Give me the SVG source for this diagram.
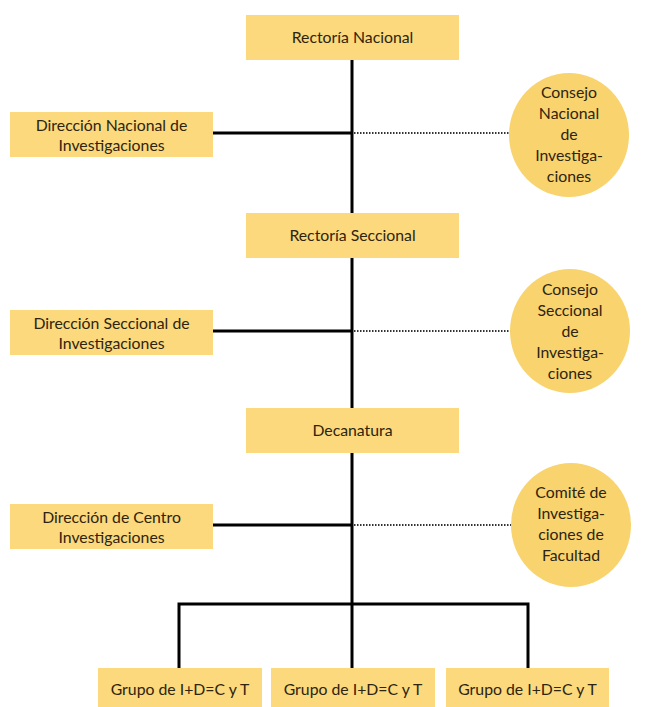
<svg xmlns="http://www.w3.org/2000/svg" width="649" height="707" viewBox="0 0 649 707">
<style>
.box{fill:#FBD97C}
.circ{fill:#F8D36E}
.t{font-family:Lato,"Open Sans","Liberation Sans",sans-serif;font-size:15.8px;fill:#2e2410;text-anchor:middle}
.solid{stroke:#000;stroke-width:3;fill:none}
.dot{stroke:#333;stroke-width:2;stroke-dasharray:1.5 1.5;fill:none}
</style>
<rect width="649" height="707" fill="#fff"/>
<g id="connectors">
<line class="solid" x1="352" y1="60" x2="352" y2="604"/>
<line class="solid" x1="213" y1="133" x2="352" y2="133"/>
<line class="solid" x1="213" y1="331" x2="352" y2="331"/>
<line class="solid" x1="213" y1="525" x2="352" y2="525"/>
<line class="dot" x1="354" y1="133" x2="510" y2="133"/>
<line class="dot" x1="354" y1="331" x2="511" y2="331"/>
<line class="dot" x1="354" y1="525" x2="512" y2="525"/>
<polyline class="solid" points="179,668 179,604 528,604 528,668"/>
<line class="solid" x1="352" y1="604" x2="352" y2="668"/>
</g>
<g id="rectoria-nacional"><rect class="box" x="246" y="15" width="213" height="45"/><text class="t" x="352.5" y="43">Rectoría Nacional</text></g>
<g id="dir-nacional"><rect class="box" x="10" y="112" width="203" height="45"/><text class="t" x="111.5" y="131">Dirección Nacional de</text><text class="t" x="111.5" y="151">Investigaciones</text></g>
<g id="consejo-nacional"><ellipse class="circ" cx="569" cy="135" rx="60" ry="62"/><text class="t" x="569" y="98">Consejo</text><text class="t" x="569" y="119">Nacional</text><text class="t" x="569" y="140">de</text><text class="t" x="569" y="161">Investiga-</text><text class="t" x="569" y="182">ciones</text></g>
<g id="rectoria-seccional"><rect class="box" x="246" y="213" width="213" height="45"/><text class="t" x="352.5" y="241">Rectoría Seccional</text></g>
<g id="dir-seccional"><rect class="box" x="10" y="310" width="203" height="45"/><text class="t" x="111.5" y="329">Dirección Seccional de</text><text class="t" x="111.5" y="349">Investigaciones</text></g>
<g id="consejo-seccional"><ellipse class="circ" cx="570" cy="331" rx="60" ry="62"/><text class="t" x="570" y="295">Consejo</text><text class="t" x="570" y="316">Seccional</text><text class="t" x="570" y="337">de</text><text class="t" x="570" y="358">Investiga-</text><text class="t" x="570" y="379">ciones</text></g>
<g id="decanatura"><rect class="box" x="246" y="408" width="213" height="45"/><text class="t" x="352.5" y="436">Decanatura</text></g>
<g id="dir-centro"><rect class="box" x="10" y="504" width="203" height="45"/><text class="t" x="111.5" y="523">Dirección de Centro</text><text class="t" x="111.5" y="543">Investigaciones</text></g>
<g id="comite"><ellipse class="circ" cx="571" cy="525" rx="60" ry="62"/><text class="t" x="571" y="498">Comité de</text><text class="t" x="571" y="519">Investiga-</text><text class="t" x="571" y="540">ciones de</text><text class="t" x="571" y="561">Facultad</text></g>
<g id="grupo-1"><rect class="box" x="98" y="668" width="164" height="39"/><text class="t" x="180" y="695">Grupo de I+D=C y T</text></g>
<g id="grupo-2"><rect class="box" x="271" y="668" width="164" height="39"/><text class="t" x="353" y="695">Grupo de I+D=C y T</text></g>
<g id="grupo-3"><rect class="box" x="446" y="668" width="163" height="39"/><text class="t" x="527.5" y="695">Grupo de I+D=C y T</text></g>
</svg>
